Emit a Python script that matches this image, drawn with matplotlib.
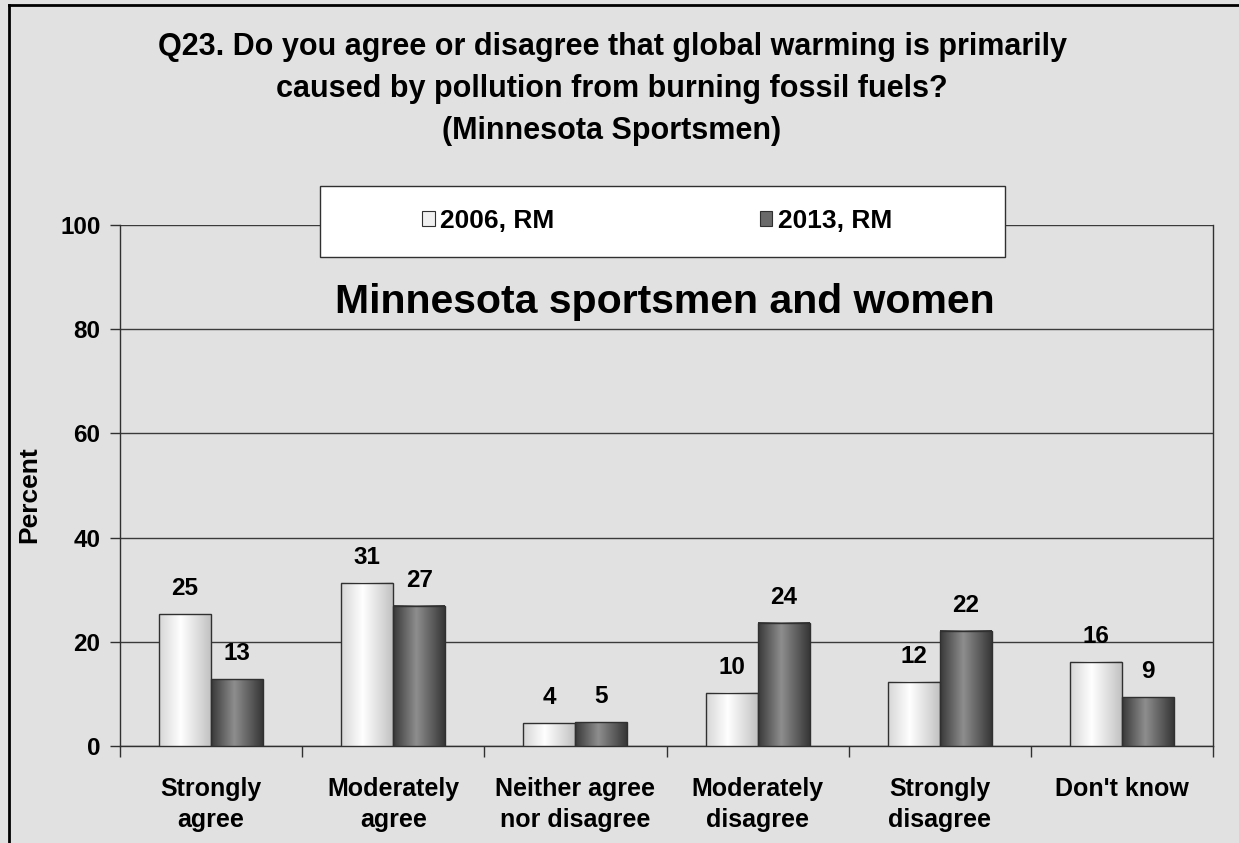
import numpy as np
import matplotlib
matplotlib.use("Agg")
import matplotlib.pyplot as plt
from matplotlib.colors import LinearSegmentedColormap
from matplotlib.patches import Rectangle
from matplotlib.lines import Line2D

plt.rcParams['font.family'] = ['Liberation Sans', 'DejaVu Sans']
plt.rcParams['font.weight'] = 'bold'

# Survey responses (percent)
categories = ["Strongly\nagree", "Moderately\nagree", "Neither agree\nnor disagree",
              "Moderately\ndisagree", "Strongly\ndisagree", "Don't know"]
series_names = ["2006, RM", "2013, RM"]
values_2006 = [25.3, 31.3, 4.4, 10.2, 12.3, 16.2]
values_2013 = [12.8, 26.9, 4.6, 23.7, 22.1, 9.4]
y_ticks = [0, 20, 40, 60, 80, 100]

title_text = ("Q23. Do you agree or disagree that global warming is primarily\n"
              "caused by pollution from burning fossil fuels?\n"
              "(Minnesota Sportsmen)")
subtitle_text = "Minnesota sportsmen and women"

BG = '#e1e1e1'
W, H = 1239, 843
fig = plt.figure(figsize=(W / 100, H / 100), dpi=100, facecolor=BG)

def fx(px):
    return px / W

def fy(py):
    return 1 - py / H

ax = fig.add_axes([fx(120), fy(746), fx(1213) - fx(120), fy(225) - fy(746)])
ax.set_facecolor(BG)

# horizontal shading for the bars
light_cmap = LinearSegmentedColormap.from_list(
    'light', [(0.0, '#d6d6d6'), (0.42, '#ffffff'), (1.0, '#c2c2c2')])
dark_cmap = LinearSegmentedColormap.from_list(
    'dark', [(0.0, '#383838'), (0.45, '#8e8e8e'), (1.0, '#363636')])
grad = np.linspace(0, 1, 256).reshape(1, -1)

x = np.arange(len(categories))
bw = 0.285
bars_a = ax.bar(x - bw / 2, values_2006, bw, facecolor='none',
                edgecolor='#303030', linewidth=1.0, zorder=4)
bars_b = ax.bar(x + bw / 2, values_2013, bw, facecolor='none',
                edgecolor='#303030', linewidth=1.0, zorder=4)

for bars, cmap in ((bars_a, light_cmap), (bars_b, dark_cmap)):
    for r in bars:
        x0, w, h = r.get_x(), r.get_width(), r.get_height()
        ax.imshow(grad, cmap=cmap, extent=[x0, x0 + w, 0, h],
                  aspect='auto', zorder=3, interpolation='bilinear')

for bars, vals in ((bars_a, values_2006), (bars_b, values_2013)):
    for r, v in zip(bars, vals):
        ax.annotate(f"{v:.0f}", (r.get_x() + r.get_width() / 2, v),
                    xytext=(0, 10), textcoords='offset points',
                    ha='center', va='bottom', fontsize=17.5, fontweight='bold',
                    color='black', zorder=5)

ax.set_xlim(-0.5, len(categories) - 0.5)
ax.set_ylim(0, 100)
ax.set_yticks(y_ticks)
ax.set_yticklabels([str(t) for t in y_ticks], fontsize=17.5, fontweight='bold')
ax.yaxis.grid(True, color='#3a3a3a', linewidth=1.0, zorder=1)
ax.set_axisbelow(True)

ax.set_xticks(x)
ax.set_xticklabels(categories, fontsize=18, fontweight='bold', linespacing=1.4)
ax.set_xticks(np.arange(len(categories) + 1) - 0.5, minor=True)
ax.tick_params(axis='x', which='major', length=0, pad=22)
ax.tick_params(axis='x', which='minor', length=8, width=1, color='#303030', direction='out')
ax.tick_params(axis='y', length=7, width=1, color='#303030', direction='out', pad=7)

for s in ('left', 'right', 'bottom'):
    ax.spines[s].set_color('#303030')
    ax.spines[s].set_linewidth(1.0)
ax.spines['top'].set_visible(False)

ax.set_ylabel("Percent", fontsize=19, fontweight='bold')
ax.yaxis.set_label_coords(-(120 - 41) / 1093, (746 - 495) / 521)

# titles
fig.text(fx(612), fy(89), title_text, ha='center', va='center', fontsize=22,
         fontweight='bold', linespacing=1.5)
fig.text(fx(665), fy(302), subtitle_text, ha='center', va='center',
         fontsize=29.5, fontweight='bold')

# legend box and legend
fig.add_artist(Rectangle((fx(320), fy(257)), fx(1005) - fx(320), fy(186) - fy(257),
                         transform=fig.transFigure, facecolor='white',
                         edgecolor='#303030', linewidth=1.0, zorder=2))
handles = [Rectangle((0, 0), 1, 1, facecolor='#f0f0f0', edgecolor='#303030', linewidth=0.8),
           Rectangle((0, 0), 1, 1, facecolor='#6a6a6a', edgecolor='#303030', linewidth=0.8)]
leg = fig.legend(handles, series_names, loc='center left',
                 bbox_to_anchor=(fx(409), fy(221)), ncol=2, frameon=False,
                 handlelength=0.47, handleheight=0.47,
                 handletextpad=0.2, columnspacing=7.8, borderpad=0,
                 prop={'weight': 'bold', 'size': 19})
leg.set_zorder(6)

# outer frame lines
fig.add_artist(Line2D([fx(9), 1], [fy(5), fy(5)], transform=fig.transFigure,
                      color='black', linewidth=2.0, zorder=7))
fig.add_artist(Line2D([fx(9), fx(9)], [fy(5), 0], transform=fig.transFigure,
                      color='black', linewidth=2.0, zorder=7))

fig.savefig("out.png", dpi=100, facecolor=BG)
